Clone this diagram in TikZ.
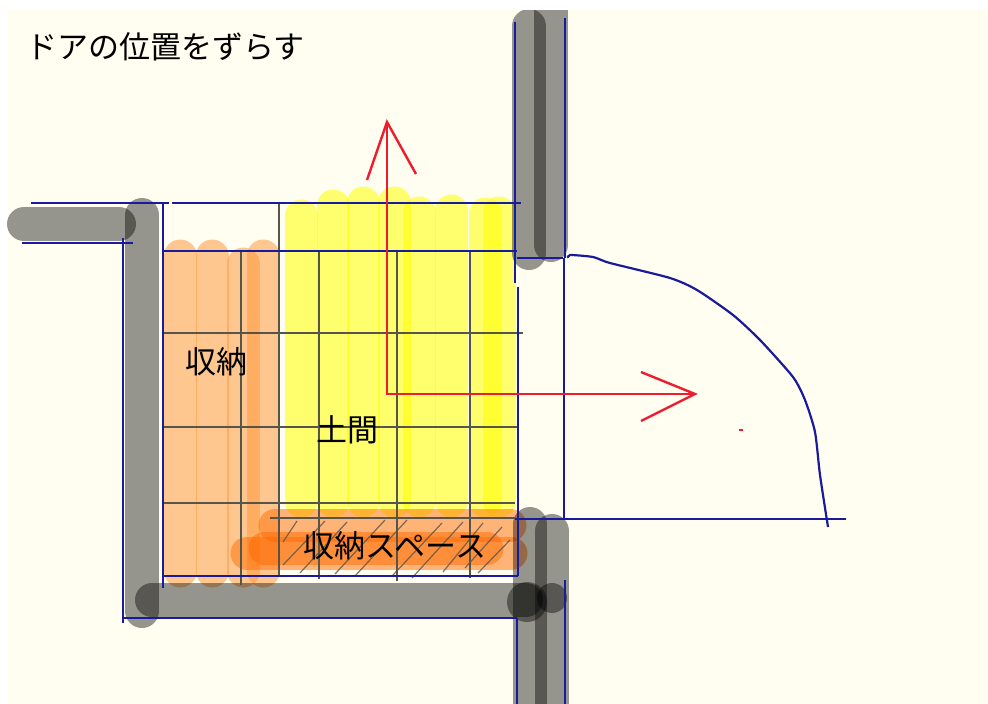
\documentclass[tikz,border=0pt]{standalone}
\usepackage{fontspec}
\setmainfont{Noto Sans CJK JP}
\definecolor{paper}{HTML}{FFFEF0}
\definecolor{penblue}{HTML}{1A1A9C}
\definecolor{penred}{HTML}{EE1C2E}
\definecolor{gridgray}{HTML}{55554A}
\definecolor{shelforange}{HTML}{FF9638}
\definecolor{bandorange}{HTML}{FF6A00}
\definecolor{domayellow}{HTML}{FFFF00}
\tikzset{
	wall/.style={black, opacity=0.41, line width=34pt, line cap=round},
	walldot/.style={black, opacity=0.41},
	storage/.style={shelforange, opacity=0.52, line width=33pt, line cap=round},
	band/.style={bandorange, opacity=0.5, line width=33pt, line cap=round},
	doma/.style={domayellow, opacity=0.55, line width=33pt, line cap=round},
	gridline/.style={gridgray, line width=2pt},
	hatchline/.style={gridgray, opacity=0.8, line width=1.2pt},
	plan/.style={penblue, line width=2.2pt},
	mover/.style={penred, line width=2.4pt},
	label/.style={font=\fontsize{31}{31}\selectfont, text=black, inner sep=0pt}
}
\begin{document}
\begin{tikzpicture}[x=1pt, y=-1pt]
	\useasboundingbox (0, 0) rectangle (988, 704);
	\fill [white] (0, 0) rectangle (988, 704);
	\fill [paper] (8, 10) rectangle (988, 704);

	\begin{scope}
		\clip (7, 10) rectangle (988, 704);

		% storage columns
		\foreach \i/\j in {180/256, 212/256, 243/264, 263/256} {
			\draw [storage] (\i, \j) -- (\i, 571);
		}

		% earth floor columns
		\foreach \i/\j in {301/216, 333/206, 363/203, 394/203, 419/213, 451/211, 485/214, 499/213} {
			\draw [doma] (\i, \j) -- (\i, 501);
		}

		% storage band
		\draw [band] (275, 525) -- (510, 525);
		\draw [band] (247, 553) -- (511, 553);
		\draw [band] (265, 548) -- (487, 548);

		% walls
		\draw [wall] (24, 224) -- (119, 224);
		\draw [wall] (142, 215) -- (142, 611);
		\draw [wall] (152, 600) -- (526, 600);
		\draw [wall] (529, 26) -- (529, 253);
		\draw [wall] (551, 0) -- (551, 245);
		\draw [wall] (530, 524) -- (530, 720);
		\draw [wall] (552, 531) -- (552, 720);
		\fill [walldot] (527, 602) circle (20);
		\fill [walldot] (552, 598) circle (15);
	\end{scope}

	% grid
	\draw [gridline] (279, 203) -- (279, 576);
	\foreach \i/\j in {241/585, 319/579, 397/581, 470/578} {
		\draw [gridline] (\i, 251) -- (\i, \j);
	}
	\draw [gridline] (163, 333) -- (523, 333);
	\draw [gridline] (163, 427) -- (518, 427);
	\draw [gridline] (163, 503) -- (515, 503);
	\draw [gridline] (270, 518) -- (515, 518);

	% hatching
	\foreach \a/\b/\c/\d in {283/542/297/521, 283/565/325/521, 300/573/347/522, 335/574/385/520, 355/576/407/520, 393/575/442/523, 412/578/463/522, 443/572/483/523, 465/568/502/527, 478/573/510/540} {
		\draw [hatchline] (\a, \b) -- (\c, \d);
	}

	% plan lines
	\draw [plan] (31, 203) -- (169, 203);
	\draw [plan] (172, 203) -- (521, 203);
	\draw [plan] (22, 243) -- (133, 243);
	\draw [plan] (123, 238) -- (123, 623);
	\draw [plan] (163, 203) -- (163, 588);
	\draw [plan] (163, 251) -- (517, 251);
	\draw [plan] (163, 576) -- (518, 576);
	\draw [plan] (122, 618) -- (517, 618);
	\draw [plan] (515, 22) -- (515, 283);
	\draw [plan] (518, 287) -- (518, 576);
	\draw [plan] (565, 18) -- (565, 258);
	\draw [plan] (517, 258) -- (563, 258);
	\draw [plan] (564, 258) -- (564, 519);
	\draw [plan] (515, 519) -- (846, 519);
	\draw [plan] (517, 618) -- (517, 704);
	\draw [plan] (565, 580) -- (565, 704);

	% door swing
	\draw [plan] plot [smooth, tension=0.4] coordinates {(568, 258) (570, 255) (593, 257) (610, 263) (670, 278) (697, 290) (733, 315) (760, 340) (793, 377) (805, 400) (815, 432) (820, 475) (828, 527)};

	% arrows
	\draw [mover] (387, 394) -- (387, 122);
	\draw [mover] (367, 180) -- (387, 122) -- (416, 174);
	\draw [mover] (386, 394) -- (695, 394);
	\draw [mover] (641, 372) -- (695, 394) -- (641, 421);
	\draw [penred, line width=1.5pt] (739, 430) -- (743, 430);

	\node [label, anchor=west] (title) at (26, 47) {ドアの位置をずらす};
	\node [label] (shuno) at (216, 362) {収納};
	\node [label] (domaname) at (347, 430) {土間};
	\node [label] (space) at (395, 546) {収納スペース};
\end{tikzpicture}
\end{document}
